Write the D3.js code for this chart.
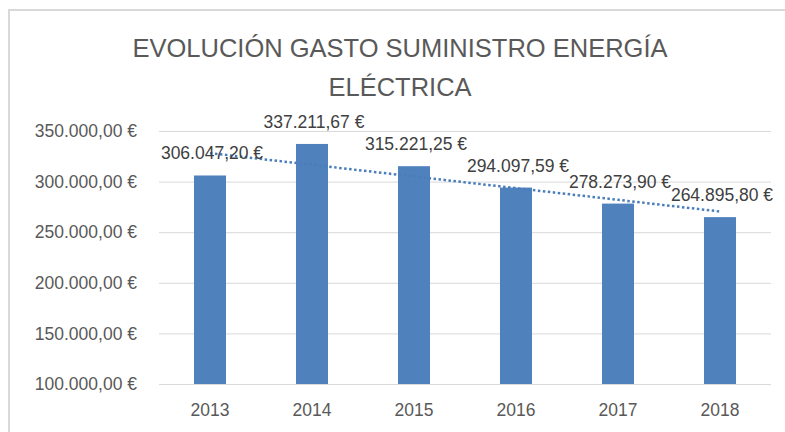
<!DOCTYPE html>
<html lang="es">
<head>
    <meta charset="UTF-8">
    <title>Evolución gasto suministro energía eléctrica</title>
    <style>
        body { margin: 0; background: #fff; }
        svg { display: block; font-family: "Liberation Sans", Arial, sans-serif; }
    </style>
</head>
<body>
    <svg width="785" height="432"></svg>
    <script src="https://d3js.org/d3.v7.min.js"></script>
    <script>
        const years = ['2013', '2014', '2015', '2016', '2017', '2018']
        const gasto = [306047.20, 337211.67, 315221.25, 294097.59, 278273.90, 264895.80]
        const yTicks = [100000, 150000, 200000, 250000, 300000, 350000]
        const titleLines = ['EVOLUCIÓN GASTO SUMINISTRO ENERGÍA', 'ELÉCTRICA']

        const svg = d3.select('svg')
        const grey = '#595959'
        const blue = '#4f81bd'

        const plot = { left: 159, right: 771, top: 131, bottom: 384 }

        // formato español: 306.047,20 €
        const eur = d3.formatLocale({
            decimal: ',', thousands: '.', grouping: [3], currency: ['', ' €']
        }).format('$,.2f')

        const x = d3.scaleBand()
            .domain(years)
            .range([plot.left, plot.right])
            .paddingInner(0.686)
            .paddingOuter(0.343)

        const y = d3.scaleLinear()
            .domain([100000, 350000])
            .range([plot.bottom, plot.top])

        // marco del gráfico
        svg.append('path')
            .attr('d', 'M9,432 V10 H785')
            .attr('fill', 'none')
            .attr('stroke', '#d9d9d9')
            .attr('stroke-width', 2)

        // título
        svg.append('g').selectAll('text')
            .data(titleLines).enter()
            .append('text')
                .attr('x', 400)
                .attr('y', (d, i) => 57 + i * 39)
                .attr('text-anchor', 'middle')
                .attr('font-size', 25.5)
                .attr('fill', grey)
                .text(d => d)

        // eje y con rejilla
        const yAxis = svg.append('g')
            .attr('transform', `translate(${plot.left},0)`)
            .call(d3.axisLeft(y).tickValues(yTicks).tickSize(-(plot.right - plot.left)).tickPadding(22).tickFormat(eur))
        yAxis.select('.domain').remove()
        yAxis.selectAll('line').attr('stroke', '#d9d9d9')
        yAxis.selectAll('text').attr('fill', grey).attr('font-size', 17.5).attr('font-family', null)

        // eje x
        const xAxis = svg.append('g')
            .attr('transform', `translate(0,${plot.bottom})`)
            .call(d3.axisBottom(x).tickSize(0).tickPadding(20))
        xAxis.select('.domain').remove()
        xAxis.selectAll('text').attr('fill', grey).attr('font-size', 17.5).attr('font-family', null)

        // barras
        svg.append('g').selectAll('rect')
            .data(gasto).enter()
            .append('rect')
                .attr('x', (d, i) => x(years[i]))
                .attr('y', d => y(d))
                .attr('width', x.bandwidth())
                .attr('height', d => y(100000) - y(d))
                .attr('fill', blue)

        // línea de tendencia (regresión lineal)
        const n = gasto.length
        const xm = (n + 1) / 2
        const ym = d3.mean(gasto)
        const slope = d3.sum(gasto, (v, i) => (i + 1 - xm) * (v - ym)) / d3.sum(gasto, (v, i) => (i + 1 - xm) ** 2)
        const trend = gasto.map((v, i) => ym + slope * (i + 1 - xm))

        svg.append('path')
            .datum(trend)
            .attr('d', d3.line()
                .x((d, i) => x(years[i]) + x.bandwidth() / 2)
                .y(d => y(d)))
            .attr('fill', 'none')
            .attr('stroke', '#4a7ebb')
            .attr('stroke-width', 2.5)
            .attr('stroke-dasharray', '2.5 2.5')

        // etiquetas de datos
        svg.append('g').selectAll('text')
            .data(gasto).enter()
            .append('text')
                .attr('x', (d, i) => x(years[i]) + x.bandwidth() / 2 + 2)
                .attr('y', d => y(d) - 16)
                .attr('text-anchor', 'middle')
                .attr('font-size', 17.5)
                .attr('fill', '#404040')
                .text(d => eur(d))
    </script>
</body>
</html>
